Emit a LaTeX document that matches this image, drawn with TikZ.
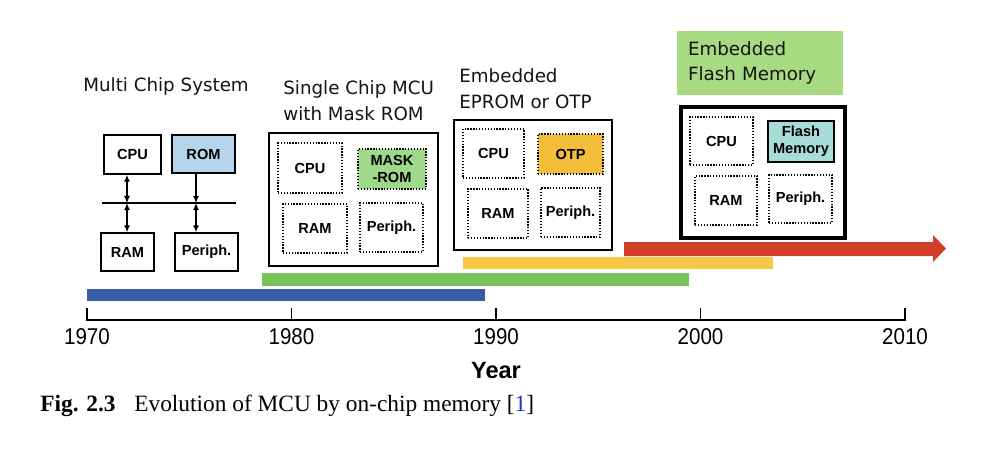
\documentclass[tikz,border=0pt]{standalone}
\usepackage{fontspec}
\setmainfont{Liberation Serif}
\newfontfamily\titlef{DejaVu Sans}
\newfontfamily\labf{Liberation Sans}
\newfontfamily\narrowf[FakeStretch=0.9]{Liberation Sans}
\usetikzlibrary{arrows.meta}
\definecolor{romblue}{HTML}{B7D5EA}
\definecolor{maskgreen}{HTML}{9FD98A}
\definecolor{otporange}{HTML}{F3BE3A}
\definecolor{flashcyan}{HTML}{A7DCD8}
\definecolor{labgreen}{HTML}{A8DA82}
\definecolor{barblue}{HTML}{3A5BA8}
\definecolor{bargreen}{HTML}{77C25A}
\definecolor{baryellow}{HTML}{F6C843}
\definecolor{barred}{HTML}{D13F2B}
\definecolor{citeblue}{HTML}{2233CC}
\begin{document}
\begin{tikzpicture}[x=0.02cm,y=-0.02cm,
  sz/.style 2 args={minimum width=#1*0.02cm, minimum height=#2*0.02cm},
  lab/.style={font=\labf\bfseries\fontsize{8.3}{9.6}\selectfont, align=center, inner sep=0pt},
  chip/.style={lab, draw, line width=0.8pt},
  dotbox/.style={lab, draw, line width=0.75pt, dash pattern=on 0.75pt off 0.9pt},
  outerbox/.style={draw, line width=0.9pt, inner sep=0pt},
  ttl/.style={font=\titlef\fontsize{10.4}{14.7}\selectfont, align=left, text=black!92, inner sep=0pt},
  bi/.style={{Latex[length=4pt,width=3.5pt]}-{Latex[length=4pt,width=3.5pt]}, line width=0.8pt},
  uni/.style={-{Latex[length=4pt,width=3.5pt]}, line width=0.8pt},
  yearlab/.style={font=\narrowf\fontsize{13}{14}\selectfont, inner sep=0pt}
]
\useasboundingbox (0,0) rectangle (1000,461);
\fill[white] (0,0) rectangle (1000,461);

% ---------- Multi chip system ----------
\node[ttl, anchor=west] (t1) at (83,86) {Multi Chip System};
\node[chip, sz={57}{39}] (cpu1) at (132.5,154.5) {CPU};
\node[chip, sz={63}{38}, fill=romblue] (rom1) at (203.5,154) {ROM};
\node[chip, sz={53}{38}] (ram1) at (127.5,252) {RAM};
\node[chip, sz={63}{38}] (per1) at (206.5,252) {Periph.};
\coordinate (busL) at (102,203);
\coordinate (busR) at (236,203);
\draw[line width=0.8pt] (busL) -- (busR);
\coordinate (b1) at (127,203);
\coordinate (b2) at (196,203);
\draw[bi] (cpu1.south -| b1) -- (b1);
\draw[bi] (b1) -- (ram1.north -| b1);
\draw[uni] (rom1.south -| b2) -- (b2);
\draw[bi] (b2) -- (per1.north -| b2);

% ---------- Single chip MCU ----------
\node[ttl, anchor=west] (t2) at (283,100.5) {Single Chip MCU\\with Mask ROM};
\node[outerbox, sz={169}{133}] (o2) at (353.5,199.5) {};
\node[dotbox, sz={64}{50}] (cpu2) at (310,168) {CPU};
\node[dotbox, sz={68}{40}, fill=maskgreen] (rom2) at (392,169) {MASK\\-ROM};
\node[dotbox, sz={64}{49}] (ram2) at (315,228.5) {RAM};
\node[dotbox, sz={63}{49}] (per2) at (391.5,227.5) {Periph.};

% ---------- Embedded EPROM / OTP ----------
\node[ttl, anchor=west] (t3) at (459,88.5) {Embedded\\EPROM or OTP};
\node[outerbox, sz={158}{130}] (o3) at (533,185) {};
\node[dotbox, sz={61}{49}] (cpu3) at (493.5,153.5) {CPU};
\node[dotbox, sz={65}{40}, fill=otporange] (rom3) at (570.5,154) {OTP};
\node[dotbox, sz={60}{49}] (ram3) at (498,213.5) {RAM};
\node[dotbox, sz={59}{49}] (per3) at (570.5,212.5) {Periph.};

% ---------- Embedded Flash ----------
\node[ttl, fill=labgreen, sz={166}{64}, text width=2.88cm] (t4) at (760,63) {Embedded\\Flash Memory};
\node[outerbox, line width=1.8pt, sz={164}{131}] (o4) at (763,172.5) {};
\node[dotbox, sz={63}{48}] (cpu4) at (721.5,141) {CPU};
\node[chip, line width=1.2pt, sz={66}{41}, fill=flashcyan] (rom4) at (801,141.5) {Flash\\Memory};
\node[dotbox, sz={62}{49}] (ram4) at (726,200.5) {RAM};
\node[dotbox, sz={63}{48}] (per4) at (800.5,199) {Periph.};

% ---------- bars ----------
\fill[barblue] (87,289) rectangle (485,301);
\fill[bargreen] (262,273) rectangle (689,286);
\fill[baryellow] (463,257) rectangle (773,269);
\fill[barred] (624,242) -- (933,242) -- (933,235) -- (946,248.5) -- (933,262) -- (933,256) -- (624,256) -- cycle;

% ---------- axis ----------
\draw[line width=0.9pt] (87,308) -- (87,320) -- (905,320) -- (905,308);
\foreach \xx in {291.5,496,700.5} \draw[line width=0.9pt] (\xx,308) -- (\xx,320);
\node[yearlab] (y1970) at (87,337) {1970};
\node[yearlab] (y1980) at (291.5,337) {1980};
\node[yearlab] (y1990) at (496,337) {1990};
\node[yearlab] (y2000) at (700.5,337) {2000};
\node[yearlab] (y2010) at (905,337) {2010};
\node[font=\labf\bfseries\fontsize{13.4}{15}\selectfont, inner sep=0pt] (year) at (496,371) {Year};

% ---------- caption ----------
\node[anchor=west, inner sep=0pt, font=\fontsize{13.3}{15}\selectfont] (cap) at (40,406)
  {\textbf{Fig. 2.3}\hspace{0.8em}Evolution of MCU by on-chip memory [\textcolor{citeblue}{1}]};
\end{tikzpicture}
\end{document}
